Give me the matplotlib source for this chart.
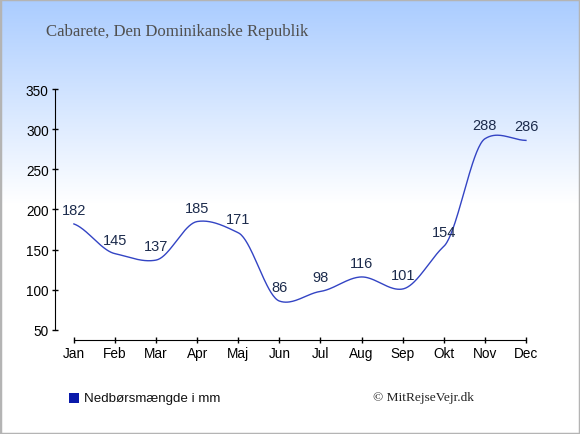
import numpy as np
import matplotlib
matplotlib.use("Agg")
import matplotlib.pyplot as plt
from matplotlib.patches import Rectangle

# Monthly rainfall, Cabarete
months = ["Jan", "Feb", "Mar", "Apr", "Maj", "Jun",
          "Jul", "Aug", "Sep", "Okt", "Nov", "Dec"]
rain_mm = [182, 145, 137, 185, 171, 86, 98, 116, 101, 154, 288, 286]
y_ticks = [50, 100, 150, 200, 250, 300, 350]

title = "Cabarete, Den Dominikanske Republik"
legend_label = "Nedbørsmængde i mm"
credit = "© MitRejseVejr.dk"

line_color = "#3344c4"
label_color = "#1c2b4c"


def cardinal_spline(y, k=0.25, steps=40):
    """Smooth curve through the points (cardinal spline)."""
    y = np.asarray(y, dtype=float)
    n = len(y)
    m = np.zeros(n)
    m[1:-1] = k * (y[2:] - y[:-2])
    m[0] = k * 2 * (y[1] - y[0])
    m[-1] = k * 2 * (y[-1] - y[-2])
    xs, ys = [], []
    for i in range(n - 1):
        t = np.linspace(0, 1, steps, endpoint=(i == n - 2))
        h00 = 2 * t**3 - 3 * t**2 + 1
        h10 = t**3 - 2 * t**2 + t
        h01 = -2 * t**3 + 3 * t**2
        h11 = t**3 - t**2
        xs.append(i + t)
        ys.append(h00 * y[i] + h10 * m[i] + h01 * y[i + 1] + h11 * m[i + 1])
    return np.concatenate(xs), np.concatenate(ys)


fig = plt.figure(figsize=(5.8, 4.35), dpi=100)

# background gradient
bg = fig.add_axes([0, 0, 1, 1], zorder=0)
h = 435
frac = np.linspace(0, 1, h)
w = np.clip(frac / 0.47, 0, 1)
top = np.array([0.667, 0.80, 1.0])
grad = top[None, :] * (1 - w[:, None]) + np.ones(3)[None, :] * w[:, None]
bg.imshow(grad[:, None, :], aspect="auto", extent=[0, 1, 0, 1])
bg.set_axis_off()
fig.patches.append(Rectangle((0, 0), 1, 1, transform=fig.transFigure,
                             fill=False, edgecolor="#b4b4b4", linewidth=2.5))

ax = fig.add_axes([55 / 580, 1 - 341 / 435, (528 - 55) / 580, (341 - 90) / 435],
                  zorder=1)
ax.set_facecolor("none")

x = np.arange(len(months))
sx, sy = cardinal_spline(rain_mm)
ax.plot(sx, sy, color=line_color, linewidth=1.0)

for xi, v in zip(x, rain_mm):
    ax.annotate(str(v), (xi, v), xytext=(0, 5), textcoords="offset points",
                ha="center", va="bottom", fontsize=10.5, color=label_color,
                family="Liberation Sans")

ax.set_xlim(-0.46, 11.05)
ax.set_ylim(37.5, 350)
ax.set_xticks(x)
ax.set_xticklabels(months)
ax.set_yticks(y_ticks)

for s in ["top", "right"]:
    ax.spines[s].set_visible(False)
ax.spines["left"].set_bounds(50, 350)
ax.spines["bottom"].set_bounds(0, 11)
ax.tick_params(direction="inout", length=5, width=1, labelsize=9.8, pad=2)
for lab in ax.get_xticklabels() + ax.get_yticklabels():
    lab.set_family("Liberation Sans")

fig.text(46 / 580, 1 - 32 / 435, title, family="Liberation Serif",
         fontsize=12.1, color="#505050", va="center", ha="left")

fig.patches.append(Rectangle((69 / 580, 1 - 404 / 435), 10 / 580, 10 / 435,
                             transform=fig.transFigure, facecolor="#0a1aaa",
                             edgecolor="none", zorder=3))
fig.text(84 / 580, 1 - 399 / 435, legend_label, family="Liberation Sans",
         fontsize=9.6, color="#111111", va="center", ha="left")
fig.text(474 / 580, 1 - 398 / 435, credit, family="Liberation Serif",
         fontsize=9.6, color="#222222", va="center", ha="right")

fig.savefig("out.png", dpi=100)
